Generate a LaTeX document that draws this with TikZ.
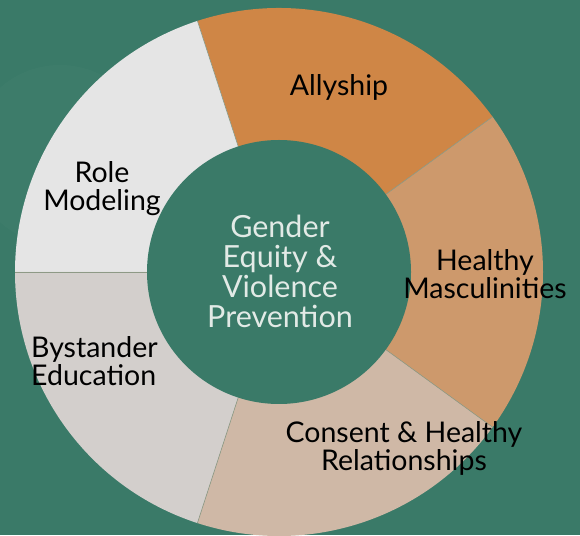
\documentclass[tikz,border=0pt]{standalone}
\usepackage{fontspec}
\setmainfont{Lato}
\definecolor{bg}{HTML}{3A7A68}
\definecolor{allyc}{HTML}{CF8646}
\definecolor{healthc}{HTML}{CD996C}
\definecolor{consentc}{HTML}{CFB8A6}
\definecolor{bystc}{HTML}{D3CFCC}
\definecolor{rolec}{HTML}{E5E5E5}
\definecolor{centertxt}{HTML}{E2EAE6}
\definecolor{sepc}{HTML}{8E9A86}
\tikzset{
  lbl/.style={align=center, text=black, inner sep=0pt, font=\fontsize{28.5}{28}\selectfont},
  ctr/.style={align=center, text=centertxt, inner sep=0pt, font=\fontsize{30.5}{30}\selectfont},
  sep/.style={draw=sepc, line width=0.6pt}
}
\newcommand{\Ro}{264}
\newcommand{\Ri}{132}
\newcommand{\sector}[3]{\fill[#3] (c) -- ([shift={(#1:\Ro)}]c) arc[start angle=#1, end angle=#2, radius=\Ro] -- cycle;}
\begin{document}
\begin{tikzpicture}[x=1pt,y=1pt]
\fill[bg] (0,0) rectangle (580,535);
\useasboundingbox (0,0) rectangle (580,535);
\begin{scope}
\clip (0,0) rectangle (580,535);
\fill[white, opacity=0.02] (60,380) circle (90);
\fill[white, opacity=0.02] (110,300) circle (70);
\end{scope}
\coordinate (c) at (279,263);
\begin{scope}
\clip (0,0) rectangle (580,535);
\sector{36}{108}{allyc}
\sector{108}{180}{rolec}
\sector{180}{252}{bystc}
\sector{252}{324}{consentc}
\sector{-36}{36}{healthc}
\foreach \a in {36,108,180,252,324}{
  \draw[sep] ([shift={(\a:\Ri)}]c) -- ([shift={(\a:\Ro)}]c);
}
\fill[bg] (c) circle (\Ri);
\end{scope}
\node[lbl] (ally) at (339,448) {Allyship};
\node[lbl] (role) at (102,346) {Role\\Modeling};
\node[lbl] (healthy) at (485,261) {Healthy\\Masculinities};
\node[lbl, align=left, anchor=west] (byst) at (31,174) {Bystander\\Education};
\node[lbl] (consent) at (404,87) {Consent \& Healthy\\Relationships};
\node[ctr] (center) at (280,264) {Gender\\Equity \&\\Violence\\Prevention};
\end{tikzpicture}
\end{document}
